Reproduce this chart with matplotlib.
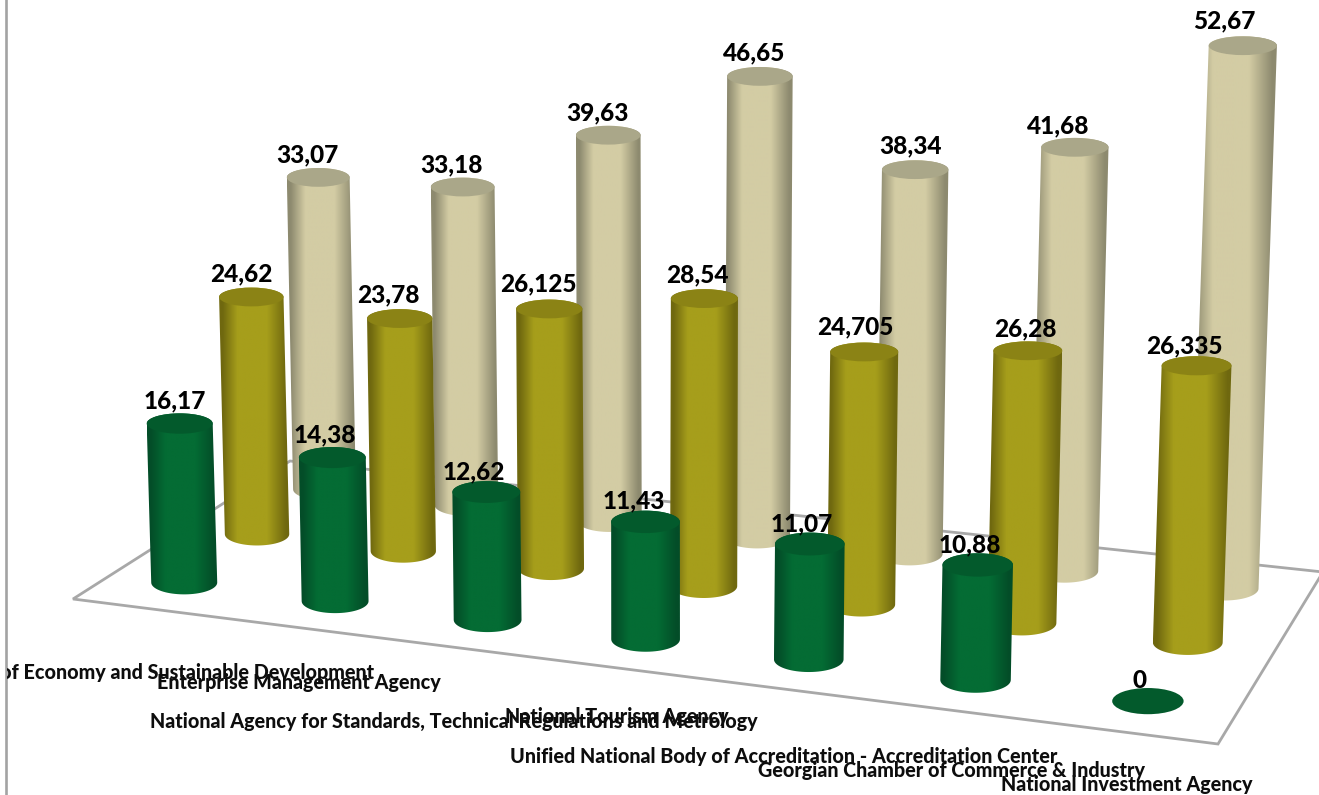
import numpy as np
import matplotlib
matplotlib.use("Agg")
import matplotlib.pyplot as plt
from matplotlib.path import Path
from matplotlib.patches import PathPatch, Ellipse, Polygon
from matplotlib.colors import LinearSegmentedColormap
from matplotlib.transforms import Bbox

categories = [
    "Ministry of Economy and Sustainable Development",
    "Enterprise Management Agency",
    "National Agency for Standards, Technical Regulations and Metrology",
    "National Tourism Agency",
    "Unified National Body of Accreditation - Accreditation Center",
    "Georgian Chamber of Commerce & Industry",
    "National Investment Agency",
]
front_values = [16.17, 14.38, 12.62, 11.43, 11.07, 10.88, 0]
middle_values = [24.62, 23.78, 26.125, 28.54, 24.705, 26.28, 26.335]
back_values = [33.07, 33.18, 39.63, 46.65, 38.34, 41.68, 52.67]

W, H = 1319, 795

# Floor outline in canvas pixels: front-left, front-right, back-right, back-left
FLOOR = np.array([[73, 599], [1218, 744], [1323, 572], [290, 461]], float)

# Category-axis labels: right/left anchor and vertical centre on the canvas
CATEGORY_LABELS = [
    (374, 673, "right"), (157, 682, "left"), (150, 721, "left"), (505, 716, "left"),
    (510, 757, "left"), (758, 771, "left"), (1001, 785, "left"),
]

# Per-label offsets from the top of each cylinder
LABEL_SHIFT = [
    [(-5, -23), (-7, -23), (-13, -20), (-12, -21), (-8, -20), (-8, -20), (-8, -21)],
    [(-10, -23), (-11, -24), (-11, -25), (-7, -24), (-9, -25), (-2, -22), (-12, -20)],
    [(-11, -23), (-11, -22), (-11, -22), (-6, -24), (-5, -24), (-17, -21), (-19, -25)],
]

# Small sideways corrections of each category slot along the floor
SLOT_SHIFT = [0.0, 0.004, 0.0045, 0.005, 0.005, 0.003, 0.0005]

STYLES = [
    dict(edge="#034d28", mid="#046c34", top="#035a2c"),
    dict(edge="#6f680f", mid="#a69e1b", top="#8b8315"),
    dict(edge="#8d8a6f", mid="#d3cca4", top="#aaa789"),
]


def floor_homography(p):
    """Perspective map of the unit square onto the floor quadrilateral."""
    (x0, y0), (x1, y1), (x2, y2), (x3, y3) = p
    dx1, dx2, sx = x1 - x2, x3 - x2, x0 - x1 + x2 - x3
    dy1, dy2, sy = y1 - y2, y3 - y2, y0 - y1 + y2 - y3
    det = dx1 * dy2 - dx2 * dy1
    g = (sx * dy2 - dx2 * sy) / det
    h = (dx1 * sy - sx * dy1) / det
    return np.array([[x1 - x0 + g * x1, x3 - x0 + h * x3, x0],
                     [y1 - y0 + g * y1, y3 - y0 + h * y3, y0],
                     [g, h, 1.0]])


HOMOGRAPHY = floor_homography(FLOOR)


def project(u, v):
    x, y, w = HOMOGRAPHY @ np.array([u, v, 1.0])
    return x / w, y / w


def vertical_scale(u, v):
    return 9.86 + 1.02 * u - 0.6 * v


def half_depth(y):
    # Ellipses open up slightly the lower they sit on the canvas
    return 9.4 + max(0.0, y - 350) * 0.0105


def draw_cylinder(ax, u, v, value, style, rx):
    xb, yb = project(u, v)
    height = value * vertical_scale(u, v)
    xt = xb + 6e-5 * (xb - 660) * height
    yt = yb - height
    ryb, ryt = half_depth(yb), half_depth(yt)

    if value > 0:
        t = np.linspace(0, np.pi, 40)
        bottom = np.column_stack([xb - rx * np.cos(t), yb + ryb * np.sin(t)])
        rim = np.column_stack([xt + rx * np.cos(t), yt - ryt * np.sin(t)])
        verts = np.vstack([bottom, rim, bottom[:1]])
        codes = [Path.MOVETO] + [Path.LINETO] * (len(verts) - 2) + [Path.CLOSEPOLY]
        outline = PathPatch(Path(verts, codes), fc="none", ec="none",
                            transform=ax.transData)
        ax.add_patch(outline)
        left = min(xb, xt) - rx
        right = max(xb, xt) + rx
        ramp = LinearSegmentedColormap.from_list(
            "body", [(0, style["edge"]), (0.05, style["edge"]), (0.26, style["mid"]),
                     (0.68, style["mid"]), (0.95, style["edge"]), (1, style["edge"])])
        image = ax.imshow(np.linspace(0, 1, 128)[None, :], cmap=ramp, vmin=0, vmax=1,
                          extent=(left, right, yb + ryb + 1, yt - ryt - 1),
                          aspect="auto", interpolation="bilinear", zorder=3)
        image.set_clip_path(outline)
    ax.add_patch(Ellipse((xt, yt), 2 * rx, 2 * ryt, fc=style["top"],
                         ec="none", zorder=3.1))
    return xt, yt


plt.rcParams["font.family"] = ["Lato", "DejaVu Sans"]
fig = plt.figure(figsize=(W / 100, H / 100), dpi=100, facecolor="white")
ax = fig.add_axes([0, 0, 1, 1])
ax.axis("off")

# Chart-area border on the left edge
ax.plot([6, 6], [0, H], color="#a3a3a3", lw=1.9, zorder=1)

ax.add_patch(Polygon(FLOOR, closed=True, fc="white", ec="#a8a8a8", lw=2.0,
                     joinstyle="miter", zorder=2))

series = [front_values, middle_values, back_values]
n_cat = len(categories)
labels = []
for j in (2, 1, 0):
    v = (j + 0.5) / 3
    for i, value in enumerate(series[j]):
        u = (i + 0.5) / n_cat + SLOT_SHIFT[i]
        rx = 33 + 0.45 * i - 0.8 * j
        xt, yt = draw_cylinder(ax, u, v, value, STYLES[j], rx)
        dx, dy = LABEL_SHIFT[j][i]
        labels.append((xt + dx, yt + dy, f"{value:g}".replace(".", ",")))

for x, y, text in labels:
    ax.text(x, y, text, fontsize=17.6, fontweight=900, color="black",
            ha="center", va="center", zorder=5)

clip = Bbox([[7, 0], [W, H]])
for name, (x, y, align) in zip(categories, CATEGORY_LABELS):
    t = ax.text(x, y, name, fontsize=14.2, fontweight=900, color="#0d0d0d",
                ha=align, va="center", zorder=5, clip_on=True)
    t.set_clip_box(clip)

ax.set_xlim(0, W)
ax.set_ylim(H, 0)
fig.savefig("out.png", dpi=100)
